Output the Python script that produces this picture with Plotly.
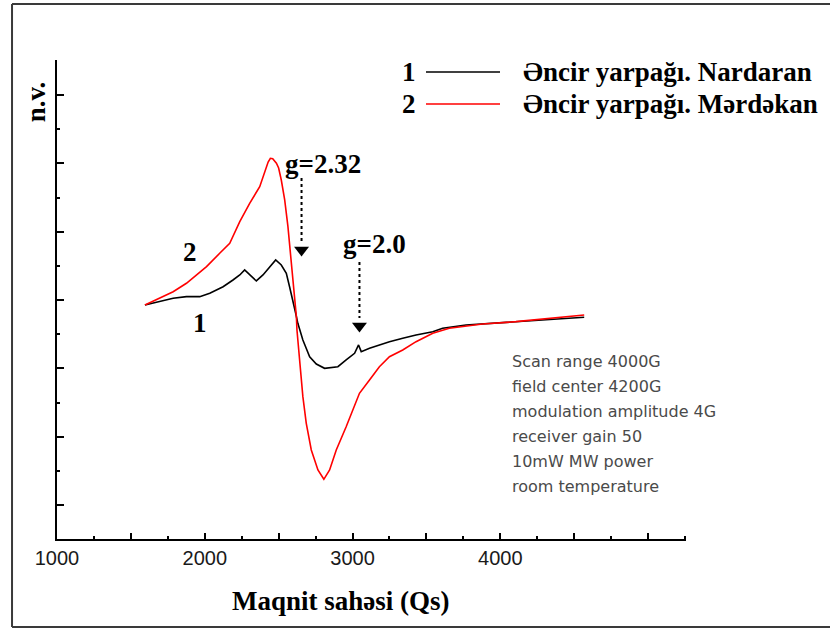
import plotly.graph_objects as go

# ---- data (field in G, signal in arbitrary units) ----
series_names = ["Əncir yarpağı. Nardaran", "Əncir yarpağı. Mərdəkan"]
series_ids = ["1", "2"]
series_colors = ["#000000", "#ff0000"]

x_nardaran = [1595, 1696, 1786, 1876, 1966, 2034, 2124, 2191, 2237, 2270, 2304, 2349,
              2394, 2439, 2480, 2518, 2552, 2574, 2597, 2615, 2630, 2664, 2710, 2755,
              2811, 2901, 2957, 3014, 3041, 3059, 3115, 3182, 3250, 3340, 3430, 3543,
              3610, 3768, 3993, 4218, 4444, 4568]
y_nardaran = [3.928, 3.977, 4.026, 4.050, 4.050, 4.100, 4.196, 4.294, 4.368, 4.441, 4.368, 4.280,
              4.368, 4.489, 4.587, 4.514, 4.392, 4.196, 4.001, 3.811, 3.660, 3.416, 3.171, 3.064,
              3.001, 3.025, 3.123, 3.221, 3.343, 3.245, 3.294, 3.343, 3.391, 3.441, 3.489, 3.537,
              3.587, 3.635, 3.669, 3.698, 3.734, 3.748]

x_merdekan = [1595, 1696, 1786, 1876, 1944, 2012, 2101, 2169, 2237, 2304, 2372, 2417,
              2429, 2444, 2460, 2485, 2500, 2518, 2541, 2563, 2586, 2603, 2620, 2624, 2642,
              2664, 2687, 2721, 2766, 2806, 2845, 2890, 2957, 3025, 3047, 3115, 3182, 3250,
              3340, 3430, 3543, 3655, 3880, 4106, 4331, 4568]
y_merdekan = [3.928, 4.026, 4.123, 4.246, 4.368, 4.489, 4.685, 4.832, 5.148, 5.417, 5.660, 5.953,
              6.022, 6.076, 6.069, 6.003, 5.934, 5.758, 5.466, 5.075, 4.587, 4.196, 3.757, 3.562,
              3.075, 2.586, 2.196, 1.805, 1.512, 1.376, 1.512, 1.805, 2.146, 2.512, 2.635, 2.830,
              3.025, 3.171, 3.269, 3.391, 3.514, 3.587, 3.650, 3.684, 3.734, 3.782]

x_tick_vals = [1000, 1500, 2000, 2500, 3000, 3500, 4000, 4500, 5000]
x_tick_text = ["1000", "", "2000", "", "3000", "", "4000", "", ""]
x_minor_vals = [1250, 1750, 2250, 2750, 3250, 3750, 4250, 4750, 5250]
y_tick_vals = [1, 2, 3, 4, 5, 6, 7]
y_minor_vals = [1.5, 2.5, 3.5, 4.5, 5.5, 6.5]

# g-factor markers
g_labels = ["g=2.32", "g=2.0"]
g_label_x = [2797, 3149]
g_label_y = [5.993, 4.821]
g_field = [2655, 3047]
g_arrow_top = [5.788, 4.558]
g_arrow_bottom = [4.851, 3.738]
g_head_y = [4.734, 3.621]

curve_label_text = ["2", "1"]
curve_label_x = [1899, 1966]
curve_label_y = [4.704, 3.665]

conditions = ["Scan range 4000G", "field center 4200G", "modulation amplitude 4G",
              "receiver gain 50", "10mW MW power", "room temperature"]
conditions_y = [3.094, 2.742, 2.376, 2.010, 1.644, 1.264]
conditions_x = 4068

x_title = "Maqnit sahəsi (Qs)"
y_title = "n.v."

SERIF = "Liberation Serif"
SANS = "Liberation Sans"

fig = go.Figure()
for xs, ys, nm, col in [(x_nardaran, y_nardaran, series_names[0], series_colors[0]),
                        (x_merdekan, y_merdekan, series_names[1], series_colors[1])]:
    fig.add_trace(go.Scatter(x=xs, y=ys, mode="lines", name=nm,
                             line=dict(color=col, width=1.6), showlegend=False))

# arrow heads
fig.add_trace(go.Scatter(x=g_field, y=g_head_y, mode="markers", showlegend=False,
                         hoverinfo="skip",
                         marker=dict(symbol="triangle-down", size=13, color="black")))

shapes = []
for gx, t, b in zip(g_field, g_arrow_top, g_arrow_bottom):
    shapes.append(dict(type="line", xref="x", yref="y", x0=gx, x1=gx, y0=t, y1=b,
                       line=dict(color="black", width=2, dash="3px,3px")))

# outer frame (top, left, bottom edges; right edge lies outside the picture)
frame_line = dict(color="#3a3a3a", width=2)
fx0, fx1, fy0, fy1 = -0.0715, 1.30, -0.1837, 1.1169
shapes.append(dict(type="line", xref="paper", yref="paper", x0=fx0, x1=fx1, y0=fy1, y1=fy1,
                   line=frame_line, layer="below"))
shapes.append(dict(type="line", xref="paper", yref="paper", x0=fx0, x1=fx1, y0=fy0, y1=fy0,
                   line=frame_line, layer="below"))
shapes.append(dict(type="line", xref="paper", yref="paper", x0=fx0, x1=fx0, y0=fy0, y1=fy1,
                   line=frame_line, layer="below"))

annotations = []
legend_rows_y = [0.975, 0.908]
for sid, nm, col, ry in zip(series_ids, series_names, series_colors, legend_rows_y):
    annotations.append(dict(xref="paper", yref="paper", x=0.5596, y=ry, text=sid,
                            showarrow=False, xanchor="center", yanchor="middle",
                            font=dict(family=SERIF, size=27, color="black", weight="bold")))
    shapes.append(dict(type="line", xref="paper", yref="paper", x0=0.5866, x1=0.7043,
                       y0=ry, y1=ry, line=dict(color=col, width=1.6)))
    annotations.append(dict(xref="paper", yref="paper", x=0.7377, y=ry, text=nm,
                            showarrow=False, xanchor="left", yanchor="middle",
                            font=dict(family=SERIF, size=27, color="black", weight="bold")))

for t, x, y in zip(g_labels, g_label_x, g_label_y):
    annotations.append(dict(x=x, y=y, text=t, showarrow=False,
                            font=dict(family=SERIF, size=27, color="black", weight="bold")))
for t, x, y in zip(curve_label_text, curve_label_x, curve_label_y):
    annotations.append(dict(x=x, y=y, text=t, showarrow=False,
                            font=dict(family=SERIF, size=27, color="black", weight="bold")))
for t, y in zip(conditions, conditions_y):
    annotations.append(dict(x=conditions_x, y=y, text=t, showarrow=False,
                            xanchor="left", yanchor="middle",
                            font=dict(family="DejaVu Sans", size=16, color="#4a4a4a")))

annotations.append(dict(xref="paper", yref="paper", x=0.4515, y=-0.1294, text=x_title,
                        showarrow=False, xanchor="center", yanchor="middle",
                        font=dict(family=SERIF, size=27, color="black", weight="bold")))
annotations.append(dict(xref="paper", yref="paper", x=-0.0334, y=0.914, text=y_title,
                        showarrow=False, textangle=-90, xanchor="center", yanchor="middle",
                        font=dict(family=SERIF, size=27, color="black", weight="bold")))

fig.update_layout(
    width=830, height=630,
    margin=dict(l=57, r=144, t=60, b=91),
    paper_bgcolor="white", plot_bgcolor="white",
    shapes=shapes, annotations=annotations,
    xaxis=dict(range=[1000, 5257], showgrid=False, zeroline=False,
               showline=True, linecolor="black", linewidth=2,
               tickmode="array", tickvals=x_tick_vals, ticktext=x_tick_text,
               ticks="inside", ticklen=6, tickwidth=1.5, tickcolor="black",
               tickfont=dict(family=SANS, size=20, color="#1a1a1a"),
               minor=dict(tickmode="array", tickvals=x_minor_vals, ticks="inside",
                          ticklen=3, tickwidth=1.5, tickcolor="black")),
    yaxis=dict(range=[0.502, 7.515], showgrid=False, zeroline=False,
               showline=True, linecolor="black", linewidth=2,
               tickmode="array", tickvals=y_tick_vals, showticklabels=False,
               ticks="inside", ticklen=7, tickwidth=1.5, tickcolor="black",
               minor=dict(tickmode="array", tickvals=y_minor_vals, ticks="inside",
                          ticklen=3, tickwidth=1.5, tickcolor="black")),
)

fig.write_html("out.html", config={"displayModeBar": False},
               post_script="document.body.style.margin='0';document.body.style.overflow='hidden';")
